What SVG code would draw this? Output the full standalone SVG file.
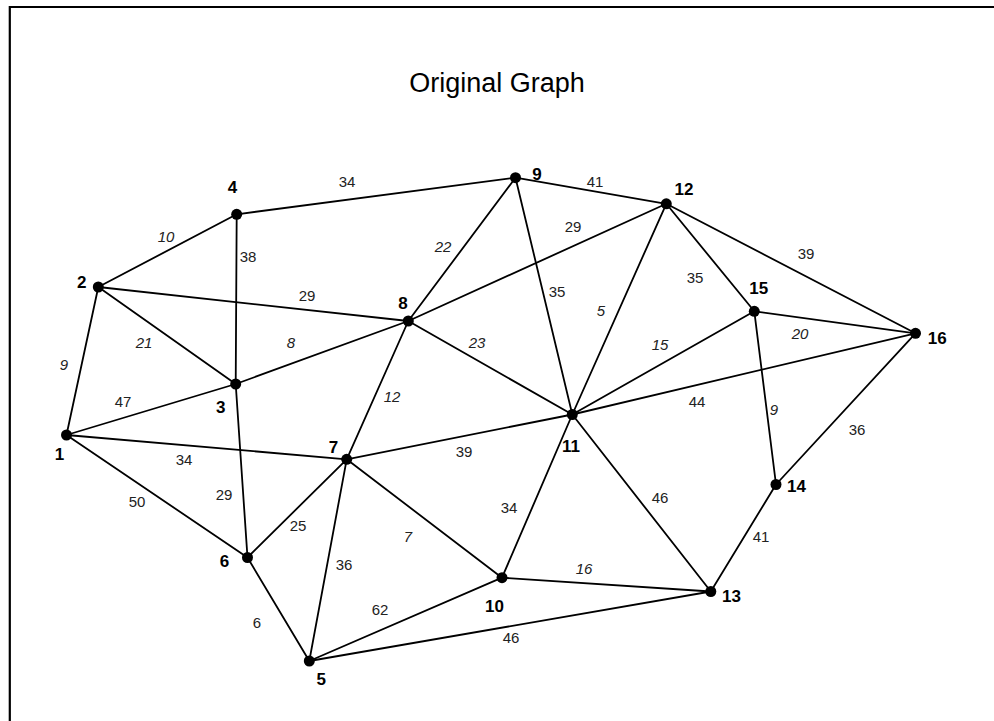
<svg xmlns="http://www.w3.org/2000/svg" width="994" height="721" viewBox="0 0 994 721">
  <style>
    .frame { fill: none; stroke: #000; stroke-width: 2.2; }
    .title { font-family: "Liberation Sans", Arial, sans-serif; font-size: 27px; fill: #000; text-anchor: middle; }
    .edge line { stroke: #000; stroke-width: 1.8; stroke-linecap: round; }
    .w { font-family: "Liberation Sans", Arial, sans-serif; font-size: 15px; fill: #222; text-anchor: middle; }
    .wi { font-style: italic; }
    .node circle { fill: #000; }
    .node text { font-family: "Liberation Sans", Arial, sans-serif; font-size: 17px; font-weight: bold; fill: #000; text-anchor: middle; }
  </style>

  <rect width="994" height="721" fill="#fff"/>
  <!-- page frame: open at right and bottom -->
  <path class="frame" d="M9.8,730 V7 H1000"/>

  <text class="title" x="497" y="92">Original Graph</text>

  <!-- connectors -->
  <g id="connectors" class="edge">
    <line x1="66.5" y1="435" x2="98.3" y2="287"/>
    <line x1="66.5" y1="435" x2="235.7" y2="384"/>
    <line x1="66.5" y1="435" x2="346.7" y2="459.3"/>
    <line x1="66.5" y1="435" x2="247.5" y2="557.5"/>
    <line x1="98.3" y1="287" x2="236.7" y2="214.3"/>
    <line x1="98.3" y1="287" x2="235.7" y2="384"/>
    <line x1="98.3" y1="287" x2="408.3" y2="321"/>
    <line x1="236.7" y1="214.3" x2="515.5" y2="177.7"/>
    <line x1="236.7" y1="214.3" x2="235.7" y2="384"/>
    <line x1="235.7" y1="384" x2="408.3" y2="321"/>
    <line x1="235.7" y1="384" x2="247.5" y2="557.5"/>
    <line x1="408.3" y1="321" x2="515.5" y2="177.7"/>
    <line x1="408.3" y1="321" x2="666.3" y2="203.8"/>
    <line x1="408.3" y1="321" x2="572.3" y2="414.5"/>
    <line x1="408.3" y1="321" x2="346.7" y2="459.3"/>
    <line x1="515.5" y1="177.7" x2="666.3" y2="203.8"/>
    <line x1="515.5" y1="177.7" x2="572.3" y2="414.5"/>
    <line x1="666.3" y1="203.8" x2="572.3" y2="414.5"/>
    <line x1="666.3" y1="203.8" x2="754.3" y2="311.3"/>
    <line x1="666.3" y1="203.8" x2="915.5" y2="333.3"/>
    <line x1="754.3" y1="311.3" x2="915.5" y2="333.3"/>
    <line x1="754.3" y1="311.3" x2="572.3" y2="414.5"/>
    <line x1="754.3" y1="311.3" x2="776" y2="484.5"/>
    <line x1="915.5" y1="333.3" x2="572.3" y2="414.5"/>
    <line x1="915.5" y1="333.3" x2="776" y2="484.5"/>
    <line x1="776" y1="484.5" x2="710.8" y2="591.5"/>
    <line x1="572.3" y1="414.5" x2="710.8" y2="591.5"/>
    <line x1="572.3" y1="414.5" x2="346.7" y2="459.3"/>
    <line x1="572.3" y1="414.5" x2="502" y2="577.7"/>
    <line x1="346.7" y1="459.3" x2="502" y2="577.7"/>
    <line x1="346.7" y1="459.3" x2="247.5" y2="557.5"/>
    <line x1="346.7" y1="459.3" x2="309.3" y2="661"/>
    <line x1="247.5" y1="557.5" x2="309.3" y2="661"/>
    <line x1="309.3" y1="661" x2="502" y2="577.7"/>
    <line x1="309.3" y1="661" x2="710.8" y2="591.5"/>
    <line x1="502" y1="577.7" x2="710.8" y2="591.5"/>
  </g>

  <!-- edge weights -->
  <g id="weights">
    <text class="w" x="347" y="187">34</text>
    <text class="w wi" x="166" y="242">10</text>
    <text class="w" x="248" y="262">38</text>
    <text class="w" x="307" y="301">29</text>
    <text class="w wi" x="144" y="348">21</text>
    <text class="w wi" x="291" y="348">8</text>
    <text class="w wi" x="64" y="370">9</text>
    <text class="w" x="123" y="407">47</text>
    <text class="w wi" x="443" y="252">22</text>
    <text class="w" x="595" y="187">41</text>
    <text class="w" x="573" y="232">29</text>
    <text class="w" x="557" y="297">35</text>
    <text class="w wi" x="601" y="316">5</text>
    <text class="w wi" x="477" y="348">23</text>
    <text class="w wi" x="392" y="402">12</text>
    <text class="w" x="806" y="259">39</text>
    <text class="w" x="695" y="283">35</text>
    <text class="w wi" x="660" y="350">15</text>
    <text class="w wi" x="800" y="339">20</text>
    <text class="w" x="697" y="407">44</text>
    <text class="w wi" x="774" y="415">9</text>
    <text class="w" x="857" y="435">36</text>
    <text class="w" x="184" y="465">34</text>
    <text class="w" x="137" y="507">50</text>
    <text class="w" x="224" y="500">29</text>
    <text class="w" x="298" y="531">25</text>
    <text class="w" x="344" y="570">36</text>
    <text class="w" x="257" y="628">6</text>
    <text class="w" x="464" y="457">39</text>
    <text class="w wi" x="408" y="542">7</text>
    <text class="w" x="509" y="513">34</text>
    <text class="w wi" x="584" y="574">16</text>
    <text class="w" x="380" y="615">62</text>
    <text class="w" x="511" y="643">46</text>
    <text class="w" x="660" y="503">46</text>
    <text class="w" x="761" y="542">41</text>
  </g>

  <!-- nodes -->
  <g id="n1" class="node"><circle cx="66.5" cy="435" r="5.5"/><text x="59.5" y="460">1</text></g>
  <g id="n2" class="node"><circle cx="98.3" cy="287" r="5.5"/><text x="81.7" y="288">2</text></g>
  <g id="n3" class="node"><circle cx="235.7" cy="384" r="5.5"/><text x="220.7" y="413">3</text></g>
  <g id="n4" class="node"><circle cx="236.7" cy="214.3" r="5.5"/><text x="232.5" y="193">4</text></g>
  <g id="n5" class="node"><circle cx="309.3" cy="661" r="5.5"/><text x="321.3" y="685">5</text></g>
  <g id="n6" class="node"><circle cx="247.5" cy="557.5" r="5.5"/><text x="224.5" y="567">6</text></g>
  <g id="n7" class="node"><circle cx="346.7" cy="459.3" r="5.5"/><text x="333.5" y="453">7</text></g>
  <g id="n8" class="node"><circle cx="408.3" cy="321" r="5.5"/><text x="403" y="309">8</text></g>
  <g id="n9" class="node"><circle cx="515.5" cy="177.7" r="5.5"/><text x="537" y="180">9</text></g>
  <g id="n10" class="node"><circle cx="502" cy="577.7" r="5.5"/><text x="494.5" y="612">10</text></g>
  <g id="n11" class="node"><circle cx="572.3" cy="414.5" r="5.5"/><text x="571" y="452">11</text></g>
  <g id="n12" class="node"><circle cx="666.3" cy="203.8" r="5.5"/><text x="683.9" y="195">12</text></g>
  <g id="n13" class="node"><circle cx="710.8" cy="591.5" r="5.5"/><text x="731.5" y="602">13</text></g>
  <g id="n14" class="node"><circle cx="776" cy="484.5" r="5.5"/><text x="796.4" y="492">14</text></g>
  <g id="n15" class="node"><circle cx="754.3" cy="311.3" r="5.5"/><text x="758.7" y="294">15</text></g>
  <g id="n16" class="node"><circle cx="915.5" cy="333.3" r="5.5"/><text x="937.3" y="344">16</text></g>
</svg>
